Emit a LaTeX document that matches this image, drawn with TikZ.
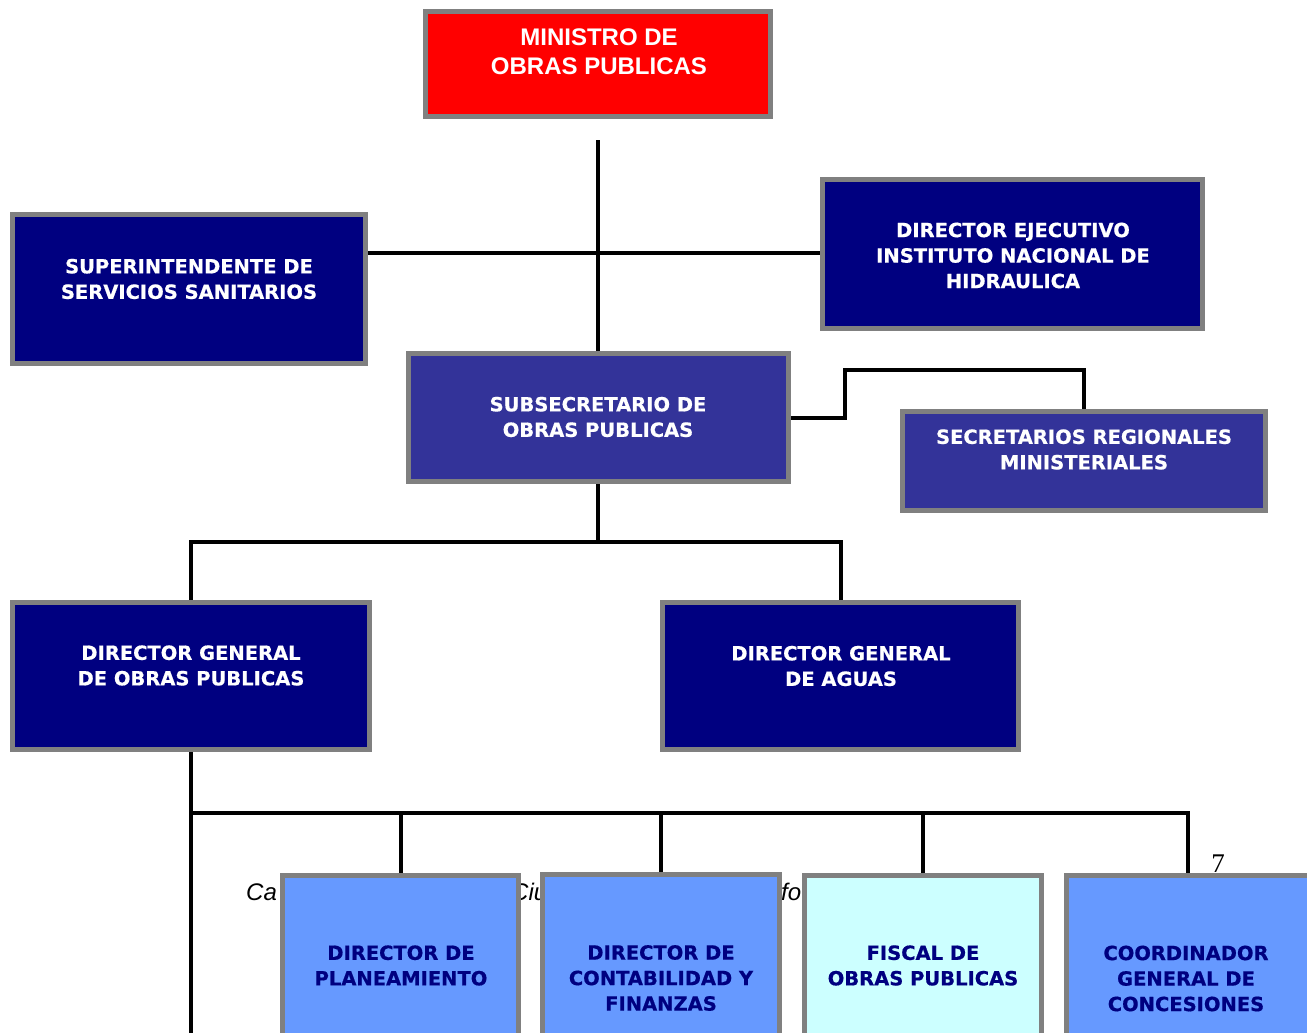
\documentclass[tikz,border=0pt]{standalone}
\usepackage{fontspec}
\setmainfont{DejaVu Sans}[BoldFeatures={FakeBold=0.6}]
\newfontfamily\arialf{Liberation Sans}
\newfontfamily\timesf{Liberation Serif}
\usetikzlibrary{backgrounds}
\definecolor{navy}{RGB}{0,0,128}
\definecolor{indigo}{RGB}{51,51,153}
\definecolor{lblue}{RGB}{102,153,255}
\definecolor{pcyan}{RGB}{204,255,255}
\definecolor{bgray}{RGB}{128,128,128}
\definecolor{mred}{RGB}{255,0,0}
\begin{document}
\begin{tikzpicture}[x=1pt,y=-1pt,
  box/.style={draw=bgray, line width=5pt, inner sep=0pt, outer sep=0pt},
  wt/.style={text=white, font=\fontsize{19.5}{25.5}\selectfont\bfseries, align=center, inner sep=0pt},
  nt/.style={text=navy, font=\fontsize{19.5}{25.5}\selectfont\bfseries, align=center, inner sep=0pt},
  mt/.style={text=white, font=\arialf\bfseries\fontsize{24}{29}\selectfont, align=center, inner sep=0pt},
  frag/.style={anchor=base west, inner sep=0pt, font=\arialf\itshape\fontsize{24}{24}\selectfont},
  conn/.style={line width=4pt, draw=black}]
\useasboundingbox (0,0) rectangle (1307,1033);
\clip (0,0) rectangle (1307,1033);

% boxes
\node[box, fill=mred, minimum width=345pt, minimum height=105pt] (min) at (598,64) {};
\node[box, fill=navy, minimum width=353pt, minimum height=149pt] (sup) at (189,289) {};
\node[box, fill=navy, minimum width=380pt, minimum height=149pt] (dej) at (1012.5,254) {};
\node[box, fill=indigo, minimum width=380pt, minimum height=128pt] (sub) at (598,417.5) {};
\node[box, fill=indigo, minimum width=363pt, minimum height=99pt] (sec) at (1084,461) {};
\node[box, fill=navy, minimum width=357pt, minimum height=147pt] (dgo) at (191,676) {};
\node[box, fill=navy, minimum width=356pt, minimum height=147pt] (dga) at (840.5,676) {};
\node[box, fill=lblue, minimum width=236pt, minimum height=182pt] (pla) at (400.5,966.5) {};
\node[box, fill=lblue, minimum width=237pt, minimum height=183pt] (con) at (661,966) {};
\node[box, fill=pcyan, minimum width=237pt, minimum height=182pt] (fis) at (923,966.5) {};
\node[box, fill=lblue, minimum width=243pt, minimum height=182pt] (coo) at (1188,966.5) {};

% texts
\node[mt] (min-t) at (599,51.5) {MINISTRO DE\\OBRAS PUBLICAS};
\node[wt] (sup-t) at (189,279) {SUPERINTENDENTE DE\\SERVICIOS SANITARIOS};
\node[wt] (dej-t) at (1013,255.5) {DIRECTOR EJECUTIVO\\INSTITUTO NACIONAL DE\\HIDRAULICA};
\node[wt] (sub-t) at (598,417) {SUBSECRETARIO DE\\OBRAS PUBLICAS};
\node[wt] (sec-t) at (1084,449.5) {SECRETARIOS REGIONALES\\MINISTERIALES};
\node[wt] (dgo-t) at (191,665.5) {DIRECTOR GENERAL\\DE OBRAS PUBLICAS};
\node[wt] (dga-t) at (841,666) {DIRECTOR GENERAL\\DE AGUAS};
\node[nt] (pla-t) at (401,965.5) {DIRECTOR DE\\PLANEAMIENTO};
\node[nt] (con-t) at (661,978) {DIRECTOR DE\\CONTABILIDAD Y\\FINANZAS};
\node[nt] (fis-t) at (923,965.5) {FISCAL DE\\OBRAS PUBLICAS};
\node[nt] (coo-t) at (1186,978.5) {COORDINADOR\\GENERAL DE\\CONCESIONES};

\node[anchor=base, inner sep=0pt, font=\timesf\fontsize{27}{27}\selectfont] (pg) at (1218,872) {7};

\coordinate (mstart) at (598,140);
\coordinate (hy) at (598,253);
\coordinate (c1) at (845,370);
\coordinate (b1) at (598,542);
\coordinate (b2) at (191,813);
\coordinate (dend) at (191,1040);

\begin{scope}[on background layer]
  \node[frag] (fr1) at (246,900) {Ca};
  \node[frag] (fr2) at (511,900) {Ciu};
  \node[frag] (fr3) at (781,900) {fo};
  \draw[conn] (mstart) -- (sub.north);
  \draw[conn] (sup.east |- hy) -- (dej.west |- hy);
  \draw[conn] (sub.east) -| (c1) -| (sec.north);
  \draw[conn] (sub.south) -- (b1);
  \draw[conn] (dgo.north) |- (b1) -| (dga.north);
  \draw[conn] (dgo.south) -- (dend);
  \draw[conn] (b2) -| (coo.north);
  \draw[conn] (pla.north) -- (pla.north |- b2);
  \draw[conn] (con.north) -- (con.north |- b2);
  \draw[conn] (fis.north) -- (fis.north |- b2);
\end{scope}
\end{tikzpicture}
\end{document}
